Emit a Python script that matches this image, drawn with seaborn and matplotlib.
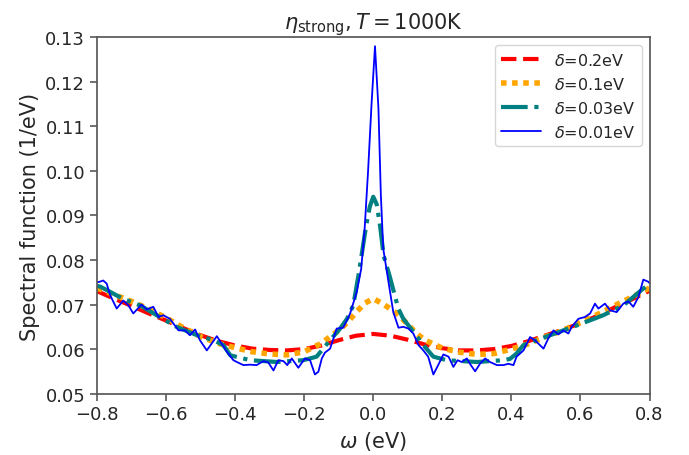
import numpy as np
import pandas as pd
import matplotlib
matplotlib.use("Agg")
import matplotlib.pyplot as plt
import seaborn as sns

# ---- data ----
omega_smooth = [-0.8, -0.75, -0.7, -0.65, -0.6, -0.55, -0.5, -0.45, -0.4, -0.35, -0.3,
                -0.25, -0.2, -0.15, -0.1, -0.05, 0.0, 0.05, 0.1, 0.15, 0.2, 0.25, 0.3,
                0.35, 0.4, 0.45, 0.5, 0.55, 0.6, 0.65, 0.7, 0.75, 0.8]
spec_d020 = [0.0730, 0.0713, 0.0697, 0.0680, 0.0664, 0.0647, 0.0631, 0.0618, 0.0608, 0.0601, 0.0598,
             0.0597, 0.0600, 0.0608, 0.0620, 0.0630, 0.0634, 0.0630, 0.0621, 0.0610, 0.0602, 0.0597, 0.0597,
             0.0600, 0.0607, 0.0618, 0.0631, 0.0644, 0.0658, 0.0675, 0.0694, 0.0712, 0.0731]

omega_d010 = [-0.8, -0.75, -0.7, -0.65, -0.6, -0.55, -0.5, -0.45, -0.4, -0.35, -0.3, -0.25,
              -0.2, -0.15, -0.125, -0.1, -0.075, -0.05, -0.025, 0.0, 0.025, 0.05, 0.075, 0.1,
              0.125, 0.15, 0.2, 0.25, 0.3, 0.35, 0.4, 0.45, 0.5, 0.55, 0.6, 0.65, 0.7,
              0.75, 0.8]
spec_d010 = [0.0737, 0.0722, 0.0707, 0.0690, 0.0670, 0.0648, 0.0628, 0.0613, 0.0603, 0.0594, 0.0589, 0.0587,
             0.0594, 0.0613, 0.0628, 0.0642, 0.0660, 0.0682, 0.0703, 0.0713, 0.0703, 0.0690, 0.0676, 0.0655,
             0.0635, 0.0620, 0.0602, 0.0593, 0.0588, 0.0590, 0.0600, 0.0612, 0.0628, 0.0642, 0.0660, 0.0678, 0.0698,
             0.0717, 0.0737]

omega_d003 = [-0.8, -0.79, -0.725, -0.675, -0.627, -0.57, -0.51, -0.463, -0.434, -0.414, -0.356,
              -0.279, -0.203, -0.164, -0.145, -0.125, -0.096, -0.076, -0.058, -0.043, -0.03,
              -0.02, -0.01, 0.0, 0.01, 0.02, 0.03, 0.047, 0.0725, 0.087, 0.116, 0.145,
              0.174, 0.213, 0.3, 0.377, 0.396, 0.415, 0.435, 0.473, 0.512, 0.589, 0.666,
              0.724, 0.782, 0.8]
spec_d003 = [0.0742, 0.0740, 0.0713, 0.0698, 0.0676, 0.0650, 0.0631, 0.0620, 0.0609, 0.0586, 0.0575,
             0.0571, 0.0575, 0.0583, 0.0601, 0.0620, 0.0646, 0.0668, 0.0698, 0.0765, 0.0830,
             0.0880, 0.0920, 0.0942, 0.0925, 0.0875, 0.0810, 0.0765, 0.0691, 0.0668, 0.0639, 0.0609,
             0.0583, 0.0575, 0.0571, 0.0575, 0.0578, 0.0590, 0.0609, 0.0620, 0.0631, 0.0653, 0.0676,
             0.0698, 0.0736, 0.0745]

omega_d001 = [-0.8, -0.793, -0.782, -0.772, -0.762, -0.743, -0.724, -0.709, -0.695, -0.671, -0.656,
              -0.637, -0.622, -0.608, -0.589, -0.564, -0.545, -0.531, -0.516, -0.502, -0.482,
              -0.453, -0.424, -0.405, -0.395, -0.376, -0.357, -0.338, -0.318, -0.304, -0.289,
              -0.275, -0.26, -0.249, -0.236, -0.217, -0.198, -0.183, -0.169, -0.159, -0.149,
              -0.14, -0.125, -0.106, -0.087, -0.067, -0.048, -0.035, -0.025, -0.015, -0.005,
              0.005, 0.015, 0.022, 0.029, 0.044, 0.058, 0.073, 0.087, 0.102, 0.116, 0.131,
              0.145, 0.159, 0.174, 0.188, 0.203, 0.218, 0.232, 0.244, 0.256, 0.271, 0.28,
              0.295, 0.309, 0.324, 0.338, 0.358, 0.377, 0.391, 0.406, 0.415, 0.435, 0.454,
              0.468, 0.493, 0.507, 0.522, 0.536, 0.55, 0.565, 0.575, 0.594, 0.613, 0.628,
              0.642, 0.652, 0.671, 0.686, 0.705, 0.724, 0.739, 0.753, 0.768, 0.782, 0.797, 0.8]
spec_d001 = [0.0750, 0.0751, 0.0754, 0.0747, 0.0721, 0.0691, 0.0709, 0.0698, 0.0680, 0.0700, 0.0689,
             0.0695, 0.0672, 0.0676, 0.0668, 0.0642, 0.0642, 0.0631, 0.0644, 0.0620, 0.0597,
             0.0629, 0.0594, 0.0575, 0.0571, 0.0564, 0.0565, 0.0564, 0.0573, 0.0570, 0.0552,
             0.0575, 0.0573, 0.0564, 0.0579, 0.0558, 0.0579, 0.0575, 0.0543, 0.0549, 0.0579,
             0.0592, 0.0601, 0.0646, 0.0648, 0.0680, 0.0728, 0.0780, 0.0870, 0.1000, 0.1150,
             0.1280, 0.1140, 0.0945, 0.0825, 0.0751, 0.0683, 0.0648, 0.0650, 0.0646, 0.0635, 0.0609,
             0.0597, 0.0583, 0.0543, 0.0564, 0.0588, 0.0583, 0.0560, 0.0575, 0.0571, 0.0579, 0.0567,
             0.0550, 0.0567, 0.0579, 0.0571, 0.0564, 0.0564, 0.0567, 0.0564, 0.0583, 0.0597, 0.0627,
             0.0620, 0.0601, 0.0624, 0.0642, 0.0633, 0.0642, 0.0635, 0.0650, 0.0668, 0.0672, 0.0680,
             0.0702, 0.0691, 0.0702, 0.0687, 0.0683, 0.0702, 0.0707, 0.0695, 0.0717, 0.0756, 0.0751, 0.0748]

labels = [r"$\delta$=0.2eV", r"$\delta$=0.1eV", r"$\delta$=0.03eV", r"$\delta$=0.01eV"]
x_ticks = [-0.8, -0.6, -0.4, -0.2, 0.0, 0.2, 0.4, 0.6, 0.8]
y_ticks = [0.05, 0.06, 0.07, 0.08, 0.09, 0.10, 0.11, 0.12, 0.13]

# ---- style ----
sns.set_style("ticks", {"axes.edgecolor": "0.35", "xtick.color": "0.35", "ytick.color": "0.35",
                        "text.color": "0.15", "axes.labelcolor": "0.15"})
plt.rcParams["font.family"] = ["DejaVu Sans"]
plt.rcParams["mathtext.fontset"] = "dejavusans"

fig = plt.figure(figsize=(6.89, 4.56), dpi=100)
ax = fig.add_axes([0.1408, 0.1346, 0.8019, 0.7814])

series = [
    (omega_smooth, spec_d020, labels[0], dict(color="red", lw=3, ls=(0, (3.7, 1.6)))),
    (omega_d010, spec_d010, labels[1], dict(color="orange", lw=4, ls=(0, (1, 1)))),
    (omega_d003, spec_d003, labels[2], dict(color="teal", lw=3, ls=(0, (6.4, 1.6, 1, 1.6)))),
    (omega_d001, spec_d001, labels[3], dict(color="blue", lw=1.3, ls="-")),
]
for xs, ys, lab, kw in series:
    df = pd.DataFrame({"w": xs, "A": ys})
    sns.lineplot(data=df, x="w", y="A", ax=ax, label=lab, estimator=None, sort=False, **kw)

ax.set_xlim(-0.8, 0.8)
ax.set_ylim(0.05, 0.13)
ax.set_xticks(x_ticks)
ax.set_yticks(y_ticks)
ax.set_yticklabels([f"{v:.2f}" for v in y_ticks])
ax.tick_params(labelsize=13, length=5, width=1.2, colors="0.35", labelcolor="0.15")
for s in ax.spines.values():
    s.set_linewidth(1.25)
ax.set_xlabel(r"$\omega$ (eV)", fontsize=15)
ax.set_ylabel("Spectral function (1/eV)", fontsize=15)
ax.set_title(r"$\eta_{\rm strong}, T = 1000$K", fontsize=15)
leg = ax.legend(loc="upper right", fontsize=11.5, handlelength=2.5, frameon=True)

fig.savefig("out.png", dpi=100)
